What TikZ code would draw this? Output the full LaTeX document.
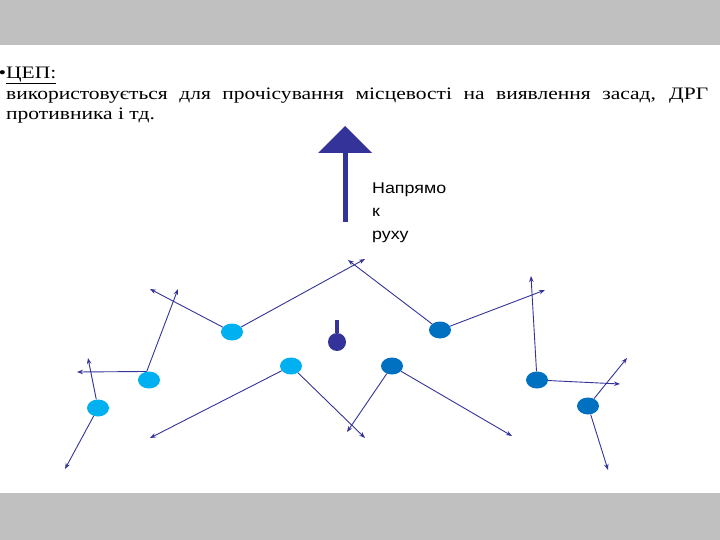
\documentclass[tikz,border=0pt]{standalone}
\usepackage{fontspec}
\setmainfont{Liberation Serif}[FakeStretch=1.23]
\newfontfamily\labelfont{Liberation Sans}[FakeStretch=1.15]
\usetikzlibrary{shapes.geometric,arrows.meta}

\definecolor{slidegray}{RGB}{192,192,192}
\definecolor{navy}{RGB}{51,51,153}
\definecolor{sky}{RGB}{0,176,240}
\definecolor{ocean}{RGB}{0,112,192}

\begin{document}
\begin{tikzpicture}[
    x=1pt, y=-1pt,
    >={Stealth[length=6pt,width=4.5pt]},
    soldier/.style={ellipse, minimum width=22pt, minimum height=17pt, inner sep=0pt},
    left wing/.style={soldier, fill=sky},
    right wing/.style={soldier, fill=ocean},
    lane/.style={->, navy, line width=0.9pt}
]
\useasboundingbox (0,0) rectangle (720,540);
\fill[slidegray] (0,0) rectangle (720,45);
\fill[slidegray] (0,493) rectangle (720,540);

\node[anchor=north west, inner sep=0pt, text width=702pt, align=justify,
      font=\fontsize{17.5}{20}\selectfont] (intro) at (6,66.5)
  {\llap{•}\underline{ЦЕП:}\\[1pt]
   використовується для прочісування місцевості на виявлення засад, ДРГ\linebreak
   противника і тд.};

% direction of movement
\coordinate (tail) at (345,222);
\coordinate (neck) at (345,152);
\draw[navy, line width=5pt] (tail) -- (neck);
\fill[navy] (318,153) -- (372,153) -- (345,126) -- cycle;
\node[anchor=north west, inner sep=0pt, align=left,
      font=\labelfont\fontsize{15.5}{23}\selectfont] (dirlabel) at (372,182.5)
  {Напрямо\\к\\руху};

% leader
\node[circle, minimum size=18pt, inner sep=0pt, fill=navy] (lead) at (337,342) {};
\coordinate (leadtop) at (337,320);
\draw[navy, line width=3.5pt] (lead) -- (leadtop);

% soldiers
\node[left wing] (s1) at (98,408) {};
\node[left wing] (s2) at (149,380) {};
\node[left wing] (s3) at (232,332) {};
\node[left wing] (s4) at (291,366) {};
\node[right wing] (s5) at (392,366) {};
\node[right wing] (s6) at (440,330) {};
\node[right wing] (s7) at (537,380) {};
\node[right wing] (s8) at (588,406) {};

% sectors of view
\coordinate (v1a) at (88,358);
\coordinate (v1b) at (65,469);
\coordinate (v2a) at (178,289);
\coordinate (v2b) at (77,372);
\coordinate (v3a) at (150,289);
\coordinate (v3b) at (365,259);
\coordinate (v4a) at (150,438);
\coordinate (v4b) at (365,438);
\coordinate (v5a) at (347,432);
\coordinate (v5b) at (512,436);
\coordinate (v6a) at (348,260);
\coordinate (v6b) at (545,290);
\coordinate (v7a) at (531,276);
\coordinate (v7b) at (620,384);
\coordinate (v8a) at (627,358);
\coordinate (v8b) at (608,470);

\path[lane]
(s1) edge (v1a) (s1) edge (v1b)
(s2.105) edge (v2a) (s2.105) edge (v2b)
(s3) edge (v3a) (s3) edge (v3b)
(s4) edge (v4a) (s4) edge (v4b)
(s5) edge (v5a) (s5) edge (v5b)
(s6) edge (v6a) (s6) edge (v6b)
(s7) edge (v7a) (s7) edge (v7b)
(s8) edge (v8a) (s8) edge (v8b);
\end{tikzpicture}
\end{document}
